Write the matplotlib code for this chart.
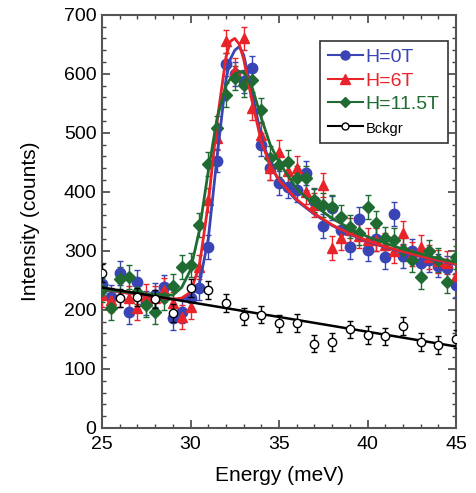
import matplotlib
matplotlib.use("Agg")
import matplotlib.pyplot as plt
import numpy as np
from matplotlib.ticker import MultipleLocator

plt.rcParams["font.family"] = ["Liberation Sans", "DejaVu Sans"]

# measured points, 25..45 meV every 0.5 meV
energy = np.arange(25.0, 45.01, 0.5)
h0 = [244, 222, 262, 196, 248, 212, 225, 239, 186, 197, 220, 237, 307, 453, 616, 600,
      587, 610, 480, 440, 415, 409, 403, 432, 385, 342, 373, 335, 307, 354, 302, 320,
      290, 362, 291, 300, 279, 285, 275, 271, 242]
h6 = [225, 217, 225, 220, 203, 224, 220, 234, 211, 188, 205, 273, 386, 491, 655, 607,
      660, 542, 497, 440, 468, 435, 440, 400, 378, 412, 305, 321, 335, 325, 319, 319,
      310, 300, 330, 295, 307, 290, 282, 280, 258]
h115 = [234, 203, 252, 256, 230, 208, 196, 220, 240, 273, 276, 344, 447, 508, 564, 593,
        581, 590, 539, 457, 446, 451, 423, 423, 386, 378, 375, 358, 341, 330, 374, 347,
        321, 318, 302, 285, 256, 299, 285, 248, 289]

# background, every 1 meV
energy_bg = np.arange(25, 46, 1)
bckgr = [263, 220, 222, 218, 195, 237, 234, 212, 189, 192, 177, 178, 143, 146, 167,
         158, 155, 173, 145, 141, 151]

# fitted curves
fit_e = [25, 27, 29, 29.5, 30, 30.5, 31, 31.5, 32, 32.25, 32.5, 32.75, 33, 33.5, 34,
         34.5, 35, 36, 37, 38, 39, 40, 41, 42, 43, 44, 45]
fit_h0 = [235, 226, 218, 218, 222, 245, 320, 460, 590, 625, 640, 646, 632, 565, 492,
          447, 418, 385, 362, 343, 328, 316, 306, 298, 290, 283, 277]
fit_h6 = [235, 226, 218, 220, 230, 275, 380, 520, 628, 655, 660, 650, 625, 550, 485,
          445, 420, 387, 363, 344, 329, 317, 307, 299, 291, 284, 278]
fit_h115 = [235, 228, 225, 238, 268, 335, 435, 525, 580, 592, 598, 604, 603, 575, 525,
            480, 450, 405, 377, 355, 338, 324, 313, 303, 295, 287, 281]
fit_bg_e = [25, 45]
fit_bg = [238, 138]

err = 20
err_bg = 15

blue = "#3a45b5"
red = "#e8242a"
green = "#1f6b32"

fig = plt.figure(figsize=(4.77, 4.93), dpi=100)
ax = fig.add_axes([0.214, 0.132, 0.742, 0.838])

series = [
    (h0, fit_h0, blue, "o", 7.5, "H=0T"),
    (h6, fit_h6, red, "^", 7.5, "H=6T"),
    (h115, fit_h115, green, "D", 6, "H=11.5T"),
]
handles = []
for vals, fit, col, mk, ms, lab in series:
    ax.errorbar(energy, vals, yerr=err, fmt=mk, color=col, ms=ms, ecolor=col,
                elinewidth=1, capsize=2.5, capthick=1, zorder=3)
    ax.plot(fit_e, fit, color=col, lw=2, zorder=4)
    h, = ax.plot([], [], color=col, lw=1.5, marker=mk, ms=ms - 1, label=lab)
    handles.append(h)

ax.errorbar(energy_bg, bckgr, yerr=err_bg, fmt="o", mfc="white", mec="black", ms=6,
            ecolor="black", elinewidth=1, capsize=2.5, capthick=1, zorder=5)
ax.plot(fit_bg_e, fit_bg, color="black", lw=1.8, zorder=4)
h, = ax.plot([], [], color="black", lw=1.5, marker="o", mfc="white", mec="black",
             ms=5, label="Bckgr")
handles.append(h)

ax.set_xlim(25, 45)
ax.set_ylim(0, 700)
ax.xaxis.set_major_locator(MultipleLocator(5))
ax.xaxis.set_minor_locator(MultipleLocator(1))
ax.yaxis.set_major_locator(MultipleLocator(100))
ax.yaxis.set_minor_locator(MultipleLocator(20))
ax.tick_params(which="both", direction="in", top=True, right=True, labelsize=14,
               color="#444444")
ax.tick_params(which="major", length=6, width=1.2)
ax.tick_params(which="minor", length=3, width=1)
ax.tick_params(axis="x", pad=6)
ax.tick_params(axis="y", pad=4)
for sp in ax.spines.values():
    sp.set_linewidth(1.5)
    sp.set_color("#555555")

ax.set_xlabel("Energy (meV)", fontsize=15, labelpad=9)
ax.set_ylabel("Intensity (counts)", fontsize=15, labelpad=17)

leg = ax.legend(handles=handles, loc="upper left", bbox_to_anchor=(0.616, 0.937),
                borderaxespad=0, fontsize=14, frameon=True, fancybox=False,
                edgecolor="#333333", handlelength=1.8, handletextpad=0.15,
                borderpad=0.4, labelspacing=0.3, framealpha=1)
leg.get_frame().set_linewidth(1.2)
for txt, col, fs in zip(leg.get_texts(), [blue, red, green, "black"], [14, 14, 14, 10.5]):
    txt.set_color(col)
    txt.set_fontsize(fs)

plt.savefig("out.png", dpi=100)
